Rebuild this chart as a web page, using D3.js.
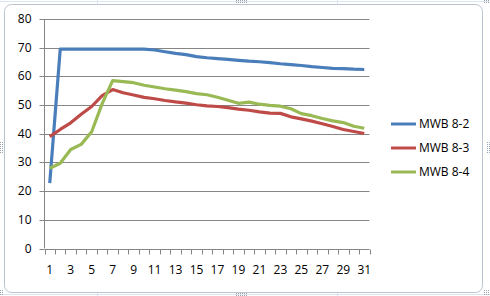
<!DOCTYPE html>
<html>
<head>
<meta charset="utf-8">
<script src="https://cdn.jsdelivr.net/npm/d3@7"></script>
<style>
  body { margin: 0; background: #fff; }
  svg { display: block; }
  text { font-family: "Open Sans", "Noto Sans", sans-serif; font-size: 12px; fill: #000; }
</style>
</head>
<body>
<svg id="chart" width="490" height="296"></svg>
<script>
var days = d3.range(1, 32);
var seriesNames = ["MWB 8-2", "MWB 8-3", "MWB 8-4"];
var seriesColors = ["#4a7ebb", "#be4b48", "#98b954"];
var mwb82 = [22.8, 69.5, 69.5, 69.5, 69.5, 69.5, 69.5, 69.5, 69.5, 69.5,
  69.2, 68.6, 68.0, 67.6, 66.9, 66.5, 66.2, 65.9, 65.6, 65.3,
  65.1, 64.8, 64.4, 64.1, 63.8, 63.4, 63.1, 62.8, 62.7, 62.5, 62.4];
var mwb83 = [39.0, 41.5, 43.8, 46.8, 49.5, 53.3, 55.4, 54.3, 53.5, 52.7,
  52.2, 51.6, 51.1, 50.7, 50.1, 49.7, 49.5, 49.1, 48.6, 48.2,
  47.6, 47.2, 47.1, 45.9, 45.2, 44.4, 43.5, 42.5, 41.5, 40.8, 40.1];
var mwb84 = [28.0, 29.7, 34.5, 36.3, 40.7, 50.5, 58.5, 58.2, 57.8, 56.9,
  56.3, 55.7, 55.2, 54.7, 54.0, 53.6, 52.7, 51.7, 50.6, 51.0,
  50.3, 49.9, 49.6, 48.7, 47.0, 46.3, 45.3, 44.5, 43.9, 42.6, 41.9];
var yTicks = [0, 10, 20, 30, 40, 50, 60, 70, 80];
var allSeries = [mwb82, mwb83, mwb84];

var svg = d3.select("#chart");

// spreadsheet background grid
var bg = svg.append("g").attr("stroke", "#dbe5f1").attr("stroke-width", 1);
[97, 337].forEach(function (v) {
  bg.append("line").attr("x1", v + 0.5).attr("x2", v + 0.5).attr("y1", 0).attr("y2", 296);
});
[1, 294].forEach(function (v) {
  bg.append("line").attr("x1", 0).attr("x2", 490).attr("y1", v + 0.5).attr("y2", v + 0.5);
});

// selection handles (dotted)
var handles = [[236, 0, 12, 3], [0, 142, 3, 12], [487, 142, 3, 12], [236, 293, 12, 3], [484, 290, 6, 6], [484, 0, 6, 3], [0, 290, 3, 6]];
var hg = svg.append("g").attr("fill", "#9aa3ad");
handles.forEach(function (h) {
  for (var i = 0; i < h[2]; i += 2) {
    for (var j = 0; j < h[3]; j += 2) {
      hg.append("rect").attr("x", h[0] + i).attr("y", h[1] + j).attr("width", 1).attr("height", 1);
    }
  }
});

// chart area
svg.append("rect")
  .attr("x", 4.5).attr("y", 4.5).attr("width", 478).attr("height", 288)
  .attr("rx", 7).attr("fill", "#fff").attr("stroke", "#b9c4d0");

var plotLeft = 44.5, plotRight = 369.5, plotTop = 19, plotBottom = 248.5;

var x = d3.scaleBand().domain(days).range([plotLeft, plotRight]);
var y = d3.scaleLinear().domain([0, 80]).range([plotBottom, plotTop]);

// gridlines
svg.append("g")
  .selectAll("line")
  .data(yTicks.slice(1))
  .enter().append("line")
  .attr("x1", plotLeft).attr("x2", plotRight)
  .attr("y1", function (d) { return Math.round(y(d)) + 0.5; })
  .attr("y2", function (d) { return Math.round(y(d)) + 0.5; })
  .attr("stroke", "#868686");

// y axis
var yAxis = svg.append("g")
  .attr("transform", "translate(" + plotLeft + ",0)")
  .call(d3.axisLeft(y).tickValues(yTicks).tickSize(5).tickPadding(6));
yAxis.select(".domain").remove();
yAxis.selectAll(".tick line").attr("stroke", "#868686");
yAxis.selectAll(".tick").attr("transform", function (d) {
  return "translate(0," + (Math.round(y(d)) + 0.5) + ")";
});
yAxis.selectAll("text").attr("font-size", null).attr("font-family", null).attr("fill", null)
  .attr("dx", -2);
svg.append("line").attr("x1", plotLeft).attr("x2", plotLeft).attr("y1", plotTop).attr("y2", plotBottom)
  .attr("stroke", "#868686");

// x axis
var xAxis = svg.append("g")
  .attr("transform", "translate(0," + (Math.round(plotBottom) + 0.5) + ")")
  .call(d3.axisBottom(x).tickSize(0).tickPadding(16)
    .tickFormat(function (d) { return d % 2 === 1 ? d : ""; }));
xAxis.select(".domain").attr("stroke", "#868686").attr("d", "M" + plotLeft + ",0H" + plotRight);
xAxis.selectAll("text").attr("font-size", null).attr("font-family", null).attr("fill", null);
xAxis.append("g").selectAll("line")
  .data(days.concat([32]))
  .enter().append("line")
  .attr("x1", function (d) { return Math.round(d <= 31 ? x(d) : plotRight) + 0.5; })
  .attr("x2", function (d) { return Math.round(d <= 31 ? x(d) : plotRight) + 0.5; })
  .attr("y1", 0).attr("y2", 5)
  .attr("stroke", "#868686");

// lines
var line = d3.line()
  .x(function (d, i) { return x(days[i]) + x.bandwidth() / 2; })
  .y(function (d) { return y(d); });

svg.append("g").selectAll("path")
  .data(allSeries)
  .enter().append("path")
  .attr("d", line)
  .attr("fill", "none")
  .attr("stroke", function (d, i) { return seriesColors[i]; })
  .attr("stroke-width", 3.2)
  .attr("stroke-linejoin", "round");

// legend
var legend = svg.append("g").selectAll("g")
  .data(seriesNames)
  .enter().append("g")
  .attr("transform", function (d, i) { return "translate(391," + (124 + i * 24) + ")"; });
legend.append("line")
  .attr("x1", 0).attr("x2", 25)
  .attr("stroke", function (d, i) { return seriesColors[i]; })
  .attr("stroke-width", 3);
legend.append("text")
  .attr("x", 28).attr("dy", "0.35em")
  .text(function (d) { return d; });
</script>
</body>
</html>
